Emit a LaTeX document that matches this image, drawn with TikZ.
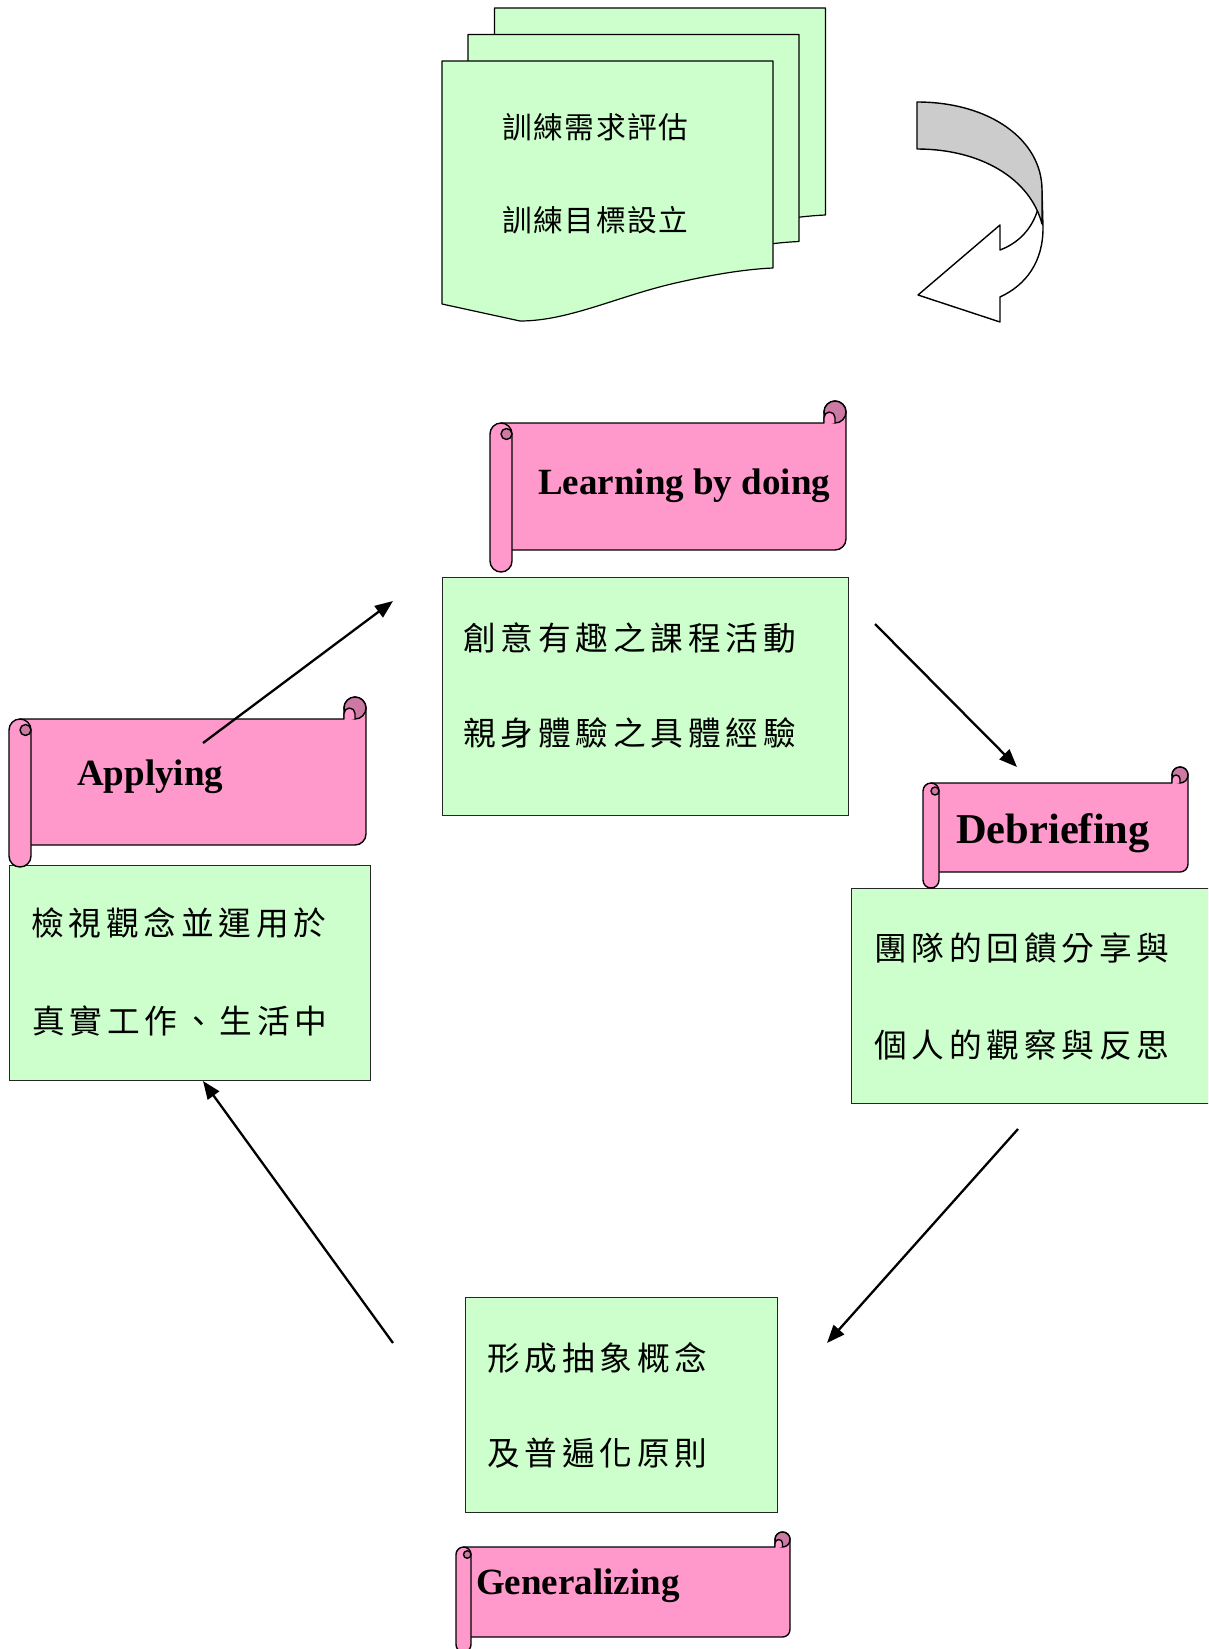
\documentclass[tikz,border=0pt]{standalone}
\usepackage{fontspec}
\setmainfont{Liberation Serif}
\newfontfamily\cjk{Noto Sans CJK TC}
\usetikzlibrary{arrows.meta}
\definecolor{boxgreen}{HTML}{CCFFCC}
\definecolor{scrollpink}{HTML}{FF99CC}
\definecolor{curlpink}{HTML}{CC7AA3}
\definecolor{bandgray}{HTML}{CCCCCC}
\newdimen\cjksp
\def\spaced#1{\spacedi#1\relax}
\def\spacedi#1{\ifx\relax#1\else#1\kern\cjksp\relax\expandafter\spacedi\fi}
\newcommand\kaiT[1]{\cjksp=4.8pt\relax\spaced{#1}}
\newcommand\docT[1]{\cjksp=1.6pt\relax\spaced{#1}}
\tikzset{
  docline/.style={draw=black, line width=1.2pt, fill=boxgreen, line join=round},
  scrollline/.style={draw=black, line width=1.4pt, line join=round},
  greenbox/.style={draw=black!85, line width=1.2pt, fill=boxgreen, inner sep=0pt, anchor=north west},
  bandline/.style={draw=black, line width=1.4pt, line join=round},
  cycarrow/.style={-{Triangle[length=18pt,width=14pt]}, line width=2.3pt},
  scrolltext/.style={font=\bfseries\fontsize{37}{44}\selectfont, inner sep=0pt, anchor=base west},
  kaitext/.style={font=\cjk\fontsize{32.7}{38}\selectfont, inner sep=0pt, anchor=west},
  doctext/.style={font=\cjk\fontsize{29.7}{34}\selectfont, inner sep=0pt, anchor=west},
}
% L T R B r
\newcommand\scrollshape[5]{%
  \filldraw[scrollline, fill=scrollpink] ({#1+2*#5},#4) -- ({#3-#5},#4)
     arc[start angle=90,end angle=0,radius=#5] -- (#3,{#2-#5})
     arc[start angle=0,end angle=-180,radius=#5] -- ({#3-2*#5},#2)
     -- ({#1+#5},#2) -- ({#1+#5},#4) -- cycle;
  \filldraw[scrollline, fill=curlpink] ({#3-#5},{#2-#5}) circle[radius=#5];
  \filldraw[scrollline, fill=scrollpink] ({#3-2*#5},#2) -- ({#3-2*#5},{#2-#5/2})
     arc[start angle=180,end angle=360,radius=#5/2] -- ({#3-#5},#2);
  \filldraw[scrollline, fill=scrollpink] ({#1+2*#5},{#2+#5})
     arc[start angle=0,end angle=-180,radius=#5] -- (#1,{#4+#5})
     arc[start angle=180,end angle=0,radius=#5] -- cycle;
  \filldraw[scrollline, fill=curlpink] ({#1+1.5*#5},{#2+#5}) circle[radius=#5/2];
}
\newcommand\docpage[2]{%
  \filldraw[docline, shift={(#1,#2)}] (442,61) -- (773,61) -- (773,268)
    .. controls (750,269) and (720,273) .. (680,282)
    .. controls (620,295) and (570,321) .. (520,321) -- (442,304) -- cycle;
}
\begin{document}
\begin{tikzpicture}[x=1pt,y=-1pt]
\clip (0,0) rectangle (1208,1649);
\fill[white] (0,0) rectangle (1208,1649);
% stacked documents
\docpage{52.5}{-53}
\docpage{26}{-26.5}
\docpage{0}{0}
\node[doctext] (d1) at (502,127) {\docT{訓練需求評估}};
\node[doctext] (d2) at (502,220) {\docT{訓練目標設立}};
% curved arrow
\filldraw[bandline, fill=white] (1037,212) .. controls (1030,232) and (1016,244) .. (1000,250)
  -- (1000,225) -- (918,295) -- (1000,322) -- (1000,297)
  .. controls (1026,285) and (1043,262) .. (1043,228) -- (1042,190) -- cycle;
\filldraw[bandline, fill=bandgray] (917,102) .. controls (990,102) and (1042,140) .. (1042,190)
  -- (1042,224) .. controls (1030,178) and (980,149) .. (917,149) -- cycle;
% green boxes
\node[greenbox, minimum width=406pt, minimum height=238pt] (learnbox) at (442,577) {};
\node[greenbox, minimum width=361pt, minimum height=215pt] (applybox) at (9,865) {};
\node[greenbox, minimum width=370pt, minimum height=215pt] (debriefbox) at (851,888) {};
\node[greenbox, minimum width=312pt, minimum height=215pt] (genbox) at (465,1297) {};
\node[kaitext] (t1a) at (463,638) {\kaiT{創意有趣之課程活動}};
\node[kaitext] (t1b) at (463,733) {\kaiT{親身體驗之具體經驗}};
\node[kaitext] (t2a) at (31,923) {\kaiT{檢視觀念並運用於}};
\node[kaitext] (t2b) at (32,1021) {\kaiT{真實工作、生活中}};
\node[kaitext] (t3a) at (874,948) {\kaiT{團隊的回饋分享與}};
\node[kaitext] (t3b) at (874,1045) {\kaiT{個人的觀察與反思}};
\node[kaitext] (t4a) at (487,1358) {\kaiT{形成抽象概念}};
\node[kaitext] (t4b) at (487,1453) {\kaiT{及普遍化原則}};
% scrolls
\scrollshape{490}{423}{846}{550}{11}
\node[scrolltext] (learn) at (538,494) {Learning by doing};
\scrollshape{9}{719}{366}{845}{11}
\node[scrolltext] (apply) at (77,785) {Applying};
\scrollshape{923}{783}{1188}{872}{8}
\node[scrolltext, font=\bfseries\fontsize{42.5}{50}\selectfont] (debrief) at (956,843) {Debriefing};
\scrollshape{456}{1547}{790}{1637}{7.5}
\node[scrolltext] (gen) at (476,1594) {Generalizing};
% cycle arrows
\coordinate (a1s) at (203,743); \coordinate (a1e) at (393,601);
\coordinate (a2s) at (875,624); \coordinate (a2e) at (1017,767);
\coordinate (a3s) at (1018,1129); \coordinate (a3e) at (827,1343);
\coordinate (a4s) at (393,1343); \coordinate (a4e) at (203,1081);
\draw[cycarrow] (a1s) -- (a1e);
\draw[cycarrow] (a2s) -- (a2e);
\draw[cycarrow] (a3s) -- (a3e);
\draw[cycarrow] (a4s) -- (a4e);
\end{tikzpicture}
\end{document}
